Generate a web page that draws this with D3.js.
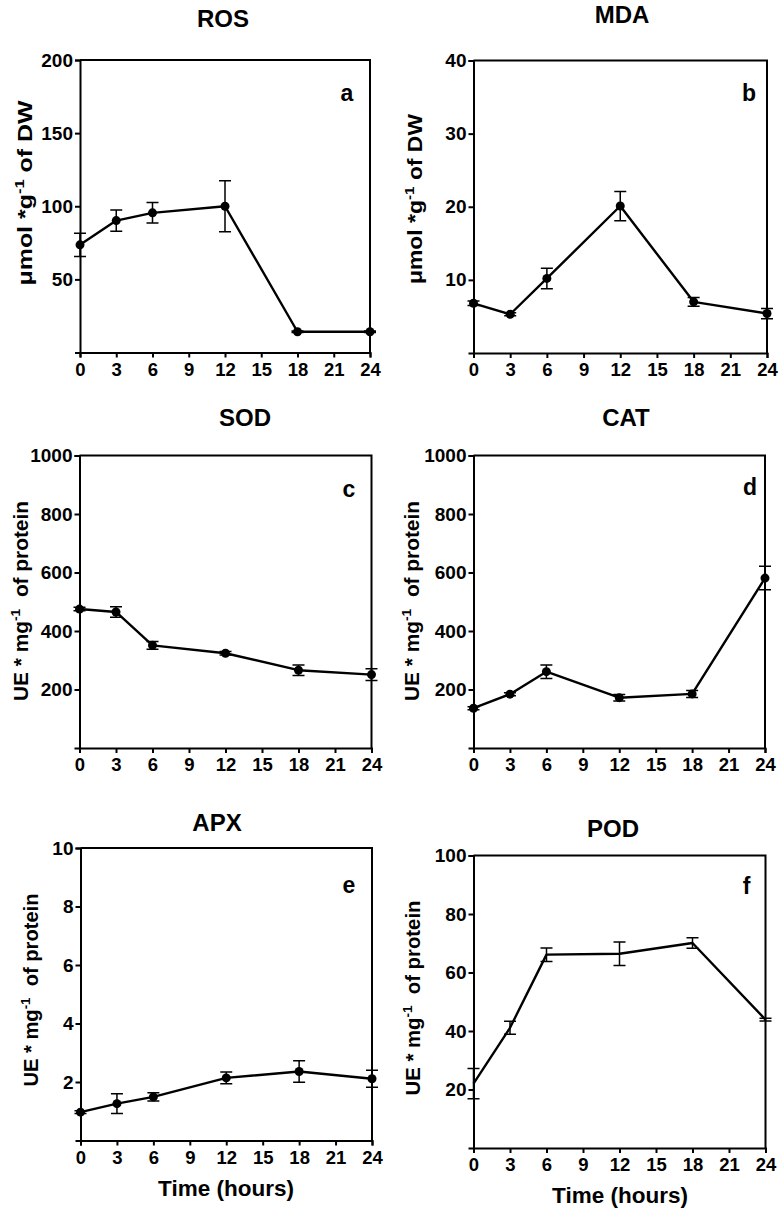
<!DOCTYPE html>
<html>
<head>
<meta charset="utf-8">
<script src="https://cdn.jsdelivr.net/npm/d3@7"></script>
<style>
  html, body { margin: 0; padding: 0; background: #fff; }
  svg { display: block; font-family: "Liberation Sans", Arial, sans-serif; font-weight: bold; }
</style>
</head>
<body>
<svg id="chart" width="780" height="1211"></svg>
<script>
// ---------- data ----------
const hours = [0, 3, 6, 12, 18, 24];
const xTickValues = [0, 3, 6, 9, 12, 15, 18, 21, 24];

const rosMean = [73.6, 90.2, 95.5, 100, 14.2, 14.2];
const rosErr  = [8, 7.3, 7, 17.5, 0.5, 0.5];
const rosTicks = [50, 100, 150, 200];

const mdaMean = [6.8, 5.3, 10.2, 20.1, 7.0, 5.4];
const mdaErr  = [0.3, 0.2, 1.4, 2.0, 0.6, 0.7];
const mdaTicks = [10, 20, 30, 40];

const sodMean = [475, 465, 351, 324, 266, 251];
const sodErr  = [6, 18, 13, 6, 18, 20];
const sodTicks = [200, 400, 600, 800, 1000];

const catMean = [136, 184, 261, 172, 185, 581];
const catErr  = [5, 5, 23, 11, 12, 40];
const catTicks = [200, 400, 600, 800, 1000];

const apxMean = [0.97, 1.26, 1.49, 2.14, 2.36, 2.11];
const apxErr  = [0.05, 0.34, 0.14, 0.2, 0.37, 0.29];
const apxTicks = [2, 4, 6, 8, 10];

const podMean = [22, 41.1, 66.1, 66.4, 70.1, 43.9];
const podErr  = [5.2, 2.2, 2.3, 4.0, 1.8, 0.5];
const podTicks = [20, 40, 60, 80, 100];

const titles = ["ROS", "MDA", "SOD", "CAT", "APX", "POD"];
const letters = ["a", "b", "c", "d", "e", "f"];
const yLabelDW = ["μmol *g", "-1", " of DW"];
const yLabelProt = ["UE * mg", "-1", "  of protein"];
const xLabel = "Time (hours)";

// ---------- layout ----------
const panels = [
  { mean: rosMean, err: rosErr, ticks: rosTicks, ymax: 200, L: 80, R: 370, T: 60, B: 352.5, title: [223, 18], letter: [347, 93], ylab: yLabelDW, yl: [25, 193, 185], markers: true, xlab: false },
  { mean: mdaMean, err: mdaErr, ticks: mdaTicks, ymax: 40, L: 473.5, R: 767, T: 60.5, B: 353, title: [622, 14], letter: [749, 93], ylab: yLabelDW, yl: [415, 199, 170], markers: true, xlab: false },
  { mean: sodMean, err: sodErr, ticks: sodTicks, ymax: 1000, L: 79.5, R: 371.5, T: 455.5, B: 748, title: [245, 417], letter: [349, 489], ylab: yLabelProt, yl: [21, 601, 200], markers: true, xlab: false },
  { mean: catMean, err: catErr, ticks: catTicks, ymax: 1000, L: 473.5, R: 765, T: 455.5, B: 748, title: [626, 417], letter: [750, 487], ylab: yLabelProt, yl: [412, 601, 200], markers: true, xlab: false },
  { mean: apxMean, err: apxErr, ticks: apxTicks, ymax: 10, L: 80.5, R: 372, T: 848, B: 1140.5, title: [217, 822], letter: [349, 885], ylab: yLabelProt, yl: [31, 990, 193], markers: true, xlab: true, xlabPos: [226, 1188] },
  { mean: podMean, err: podErr, ticks: podTicks, ymax: 100, L: 473.5, R: 765.5, T: 855.5, B: 1148, title: [613, 828], letter: [746.5, 886], ylab: yLabelProt, yl: [413, 998, 195], markers: false, xlab: true, xlabPos: [620, 1195] }
];

const svg = d3.select("#chart");

panels.forEach((p, i) => {
  const x = d3.scaleLinear().domain([0, 24]).range([p.L, p.R]);
  const y = d3.scaleLinear().domain([0, p.ymax]).range([p.B, p.T]);
  const g = svg.append("g");

  // frame (top + right)
  g.append("path")
    .attr("d", `M${p.L},${p.T}H${p.R}V${p.B}`)
    .attr("fill", "none").attr("stroke", "#000").attr("stroke-width", 2);

  // x axis
  const xa = g.append("g").attr("transform", `translate(0,${p.B})`)
    .call(d3.axisBottom(x).tickValues(xTickValues).tickSizeOuter(0).tickSize(5).tickPadding(5).tickFormat(d3.format("d")));
  xa.select(".domain").attr("stroke-width", 2);
  xa.selectAll(".tick line").attr("stroke-width", 2);
  xa.selectAll("text").attr("font-size", 18.5).attr("font-weight", "bold").attr("font-family", "Liberation Sans, Arial, sans-serif").attr("fill", "#000");

  // y axis
  const ya = g.append("g").attr("transform", `translate(${p.L},0)`)
    .call(d3.axisLeft(y).tickValues(p.ticks).tickSizeOuter(0).tickSize(5).tickPadding(2).tickFormat(d3.format("d")));
  ya.select(".domain").attr("stroke-width", 2);
  ya.selectAll(".tick line").attr("stroke-width", 2);
  ya.selectAll("text").attr("font-size", 19).attr("font-weight", "bold").attr("font-family", "Liberation Sans, Arial, sans-serif").attr("fill", "#000");

  const pts = hours.map((h, k) => ({ h, m: p.mean[k], e: p.err[k] }));

  // error bars
  const cap = 6;
  const eb = g.append("g").attr("stroke", "#000").attr("stroke-width", 1.5).attr("fill", "none");
  eb.selectAll("path").data(pts).join("path")
    .attr("d", d => {
      const cx = x(d.h), y1 = y(d.m + d.e), y0 = y(d.m - d.e);
      return `M${cx - cap},${y1}H${cx + cap}M${cx},${y1}V${y0}M${cx - cap},${y0}H${cx + cap}`;
    });

  // line
  g.append("path").datum(pts)
    .attr("d", d3.line().x(d => x(d.h)).y(d => y(d.m)))
    .attr("fill", "none").attr("stroke", "#000").attr("stroke-width", 2.4).attr("stroke-linejoin", "round");

  // markers
  if (p.markers) {
    g.selectAll("circle.pt").data(pts).join("circle")
      .attr("class", "pt")
      .attr("cx", d => x(d.h)).attr("cy", d => y(d.m)).attr("r", 4.5).attr("fill", "#000");
  }

  // title
  g.append("text").attr("x", p.title[0]).attr("y", p.title[1]).attr("dy", "0.36em")
    .attr("text-anchor", "middle").attr("font-size", 24).text(titles[i]);

  // panel letter
  g.append("text").attr("x", p.letter[0]).attr("y", p.letter[1]).attr("dy", "0.36em")
    .attr("text-anchor", "middle").attr("font-size", 23).text(letters[i]);

  // y label (rotated)
  const yt = g.append("text")
    .attr("transform", `translate(${p.yl[0]},${p.yl[1]}) rotate(-90)`)
    .attr("text-anchor", "middle").attr("dy", "0.36em")
    .attr("font-size", 19.5).style("white-space", "pre")
    .attr("textLength", p.yl[2]).attr("lengthAdjust", "spacingAndGlyphs");
  yt.append("tspan").text(p.ylab[0]);
  yt.append("tspan").attr("dy", -8).attr("font-size", 13).text(p.ylab[1]);
  yt.append("tspan").attr("dy", 8).text(p.ylab[2]);

  // x label
  if (p.xlab) {
    g.append("text").attr("x", p.xlabPos[0]).attr("y", p.xlabPos[1]).attr("dy", "0.36em")
      .attr("text-anchor", "middle").attr("font-size", 22.5).text(xLabel);
  }
});
</script>
</body>
</html>
